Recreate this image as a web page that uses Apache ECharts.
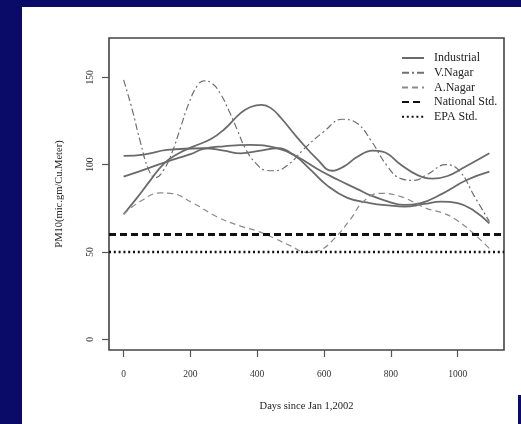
<!DOCTYPE html>
<html>
<head>
<meta charset="utf-8">
<script src="https://cdn.jsdelivr.net/npm/echarts@6/dist/echarts.min.js"></script>
<style>
  html, body { margin: 0; padding: 0; background: #0a0a68; }
  #chart { width: 521px; height: 424px; }
</style>
</head>
<body>
<div id="chart"></div>
<script>
// Smoothed PM10 trends (days since 1 Jan 2002, PM10 in mic.gm/Cu.Meter)
const industrialA = [[0,71.6],[40,81],[80,91],[120,100.5],[160,106],[210,110.5],[260,114.5],[300,120],[350,129.5],[380,133],[414,134.2],[440,132.5],[470,127],[520,115.5],[580,103],[625,96.5],[660,99],[700,104.5],[745,108],[775,107.5],[830,100],[880,94],[925,92],[970,93.5],[1020,98.5],[1095,106.5]];
const industrialB = [[0,105],[60,105.8],[130,108.4],[240,109.4],[300,108],[350,106.5],[410,108],[460,109.4],[510,105.5],[560,97],[610,88],[670,81],[737,78],[800,76.5],[840,76],[900,77.5],[950,78.8],[1000,78],[1050,73.5],[1095,66.4]];
const industrialC = [[0,93.1],[60,97],[130,101.7],[200,106],[239,109],[300,110.5],[379,111.3],[459,109.4],[520,104.5],[580,97.5],[640,91.5],[700,86],[737,82.6],[790,79],[837,77],[887,77.9],[950,83],[1027,91.2],[1095,96]];
const vNagar = [[0,148.5],[25,132],[50,113],[75,97],[95,92.5],[120,97],[145,107],[170,121],[195,135],[220,145],[240,148],[265,146.5],[290,140.5],[315,131],[340,120],[365,109],[395,101],[425,96.8],[450,96.5],[490,99.5],[540,109],[600,119],[655,126],[700,123.5],[740,114],[790,99],[830,92],[870,91],[910,94.5],[965,100],[1005,96.5],[1050,82],[1095,67.4]];
const aNagar = [[0,71.6],[50,79],[110,83.8],[140,83.6],[209,77.9],[279,70.2],[350,64.8],[400,62],[450,58],[500,53.5],[548,49.8],[588,51.1],[630,57.5],[680,69],[717,78.8],[767,83.6],[830,81.7],[907,75],[960,72],[997,68.3],[1047,60.7],[1095,52]];
const nationalStd = 60;
const epaStd = 50;

const xTicks = [0, 200, 400, 600, 800, 1000];
const yTicks = [0, 50, 100, 150];
const xRange = [-43.8, 1138.8];
const yRange = [-6.1, 172.5];

const serif = 'Liberation Serif';
const solidGray = '#6a6a6a';

function curve(name, data, lineStyle) {
  return {
    name, type: 'line', data, smooth: 0.45, symbol: 'none',
    lineStyle, itemStyle: { color: lineStyle.color }, silent: true
  };
}
function hline(name, value, lineStyle) {
  return {
    name, type: 'line', symbol: 'none', silent: true,
    data: [[xRange[0], value], [xRange[1], value]],
    lineStyle, itemStyle: { color: lineStyle.color }
  };
}

const chart = echarts.init(document.getElementById('chart'), null, { renderer: 'canvas' });
chart.setOption({
  backgroundColor: '#0a0a68',
  animation: false,
  graphic: [
    { type: 'rect', z: -100, shape: { x: 22, y: 7, width: 499, height: 417 }, style: { fill: '#ffffff' } },
    { type: 'rect', z: -99, shape: { x: 518, y: 395, width: 3, height: 29 }, style: { fill: '#0a0a68' } }
  ],
  grid: {
    left: 109, right: 17, top: 38, bottom: 74,
    show: true, borderColor: '#444', borderWidth: 1.6, backgroundColor: 'transparent'
  },
  legend: {
    orient: 'vertical', left: 401, top: 52, padding: 0,
    itemWidth: 22, itemHeight: 10, itemGap: 2.7,
    selectedMode: false,
    itemStyle: { opacity: 0, borderWidth: 0 },
    data: ['Industrial', 'V.Nagar', 'A.Nagar', 'National Std.', 'EPA Std.'],
    textStyle: { fontFamily: serif, fontSize: 12, color: '#222', padding: [0, 0, 0, 5] }
  },
  xAxis: {
    type: 'value', min: xRange[0], max: xRange[1],
    name: 'Days since Jan 1,2002', nameLocation: 'middle', nameGap: 51,
    nameTextStyle: { fontFamily: serif, fontSize: 10.5, color: '#222' },
    axisLine: { show: false, onZero: false },
    splitLine: { show: false },
    axisTick: { show: true, length: 7, customValues: xTicks, lineStyle: { color: '#555', width: 1.2 } },
    axisLabel: { customValues: xTicks, margin: 19, fontFamily: serif, fontSize: 9.5, color: '#333', formatter: v => String(v) }
  },
  yAxis: {
    type: 'value', min: yRange[0], max: yRange[1],
    name: 'PM10(mic.gm/Cu.Meter)', nameLocation: 'middle', nameGap: 44,
    nameTextStyle: { fontFamily: serif, fontSize: 10.5, color: '#222' },
    axisLine: { show: false, onZero: false },
    splitLine: { show: false },
    axisTick: { show: true, length: 7, customValues: yTicks, lineStyle: { color: '#555', width: 1.2 } },
    axisLabel: { customValues: yTicks, rotate: 90, margin: 14, fontFamily: serif, fontSize: 9.5, color: '#333', formatter: v => String(v) }
  },
  series: [
    curve('Industrial', industrialA, { color: solidGray, width: 1.8, type: 'solid' }),
    curve('Industrial', industrialB, { color: solidGray, width: 1.8, type: 'solid' }),
    curve('Industrial', industrialC, { color: solidGray, width: 1.8, type: 'solid' }),
    curve('V.Nagar', vNagar, { color: '#6f6f6f', width: 1.2, type: [7, 3, 2, 3] }),
    curve('A.Nagar', aNagar, { color: '#8a8a8a', width: 1.2, type: [6, 4] }),
    hline('National Std.', nationalStd, { color: '#111', width: 3, type: [7, 4] }),
    hline('EPA Std.', epaStd, { color: '#111', width: 2.5, type: [2, 2.8] })
  ]
});
</script>
</body>
</html>
